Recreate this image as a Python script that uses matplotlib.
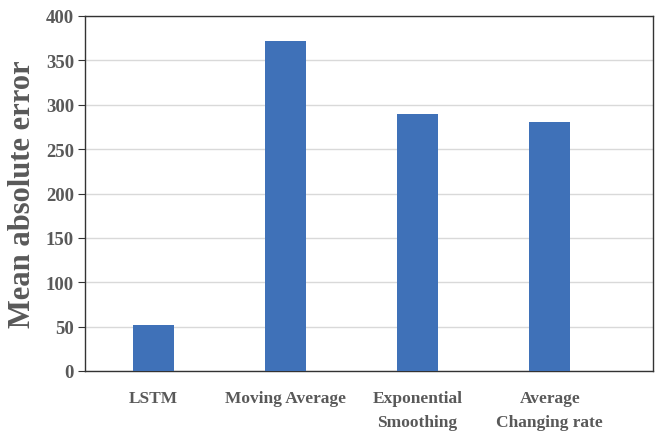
import matplotlib
matplotlib.use('Agg')
import matplotlib.pyplot as plt
import numpy as np

# data
methods = ['LSTM', 'Moving Average', 'Exponential\nSmoothing', 'Average\nChanging rate']
mae = [52, 372, 290, 280]
yticks = [0, 50, 100, 150, 200, 250, 300, 350, 400]

plt.rcParams['font.family'] = ['Liberation Serif', 'DejaVu Serif']
plt.rcParams['font.weight'] = 'bold'

fig = plt.figure(figsize=(6.6, 4.35), dpi=100)
ax = fig.add_axes([85/660, 63/435, 568/660, 355/435])

x = np.arange(len(methods))
ax.bar(x, mae, width=0.31, color='#3F71B8', zorder=3)

ax.set_xlim(-0.515, 3.78)
ax.set_ylim(0, 400)
ax.set_yticks(yticks)
ax.set_xticks(x)
ax.set_xticklabels(methods, fontsize=12.5, color='#595959', fontweight='bold', linespacing=1.65)
ax.tick_params(axis='y', labelsize=13.5, labelcolor='#595959', length=5, color='#333333', pad=3)
ax.tick_params(axis='x', length=0, pad=14)
for lab in ax.get_yticklabels():
    lab.set_fontweight('bold')

ax.grid(axis='y', color='#d9d9d9', linewidth=1, zorder=0)
for s in ax.spines.values():
    s.set_color('#333333')
    s.set_linewidth(1)

ax.set_ylabel('Mean absolute error', fontsize=22, color='#595959', fontweight='bold', labelpad=6)

fig.savefig('out.png', dpi=100)
